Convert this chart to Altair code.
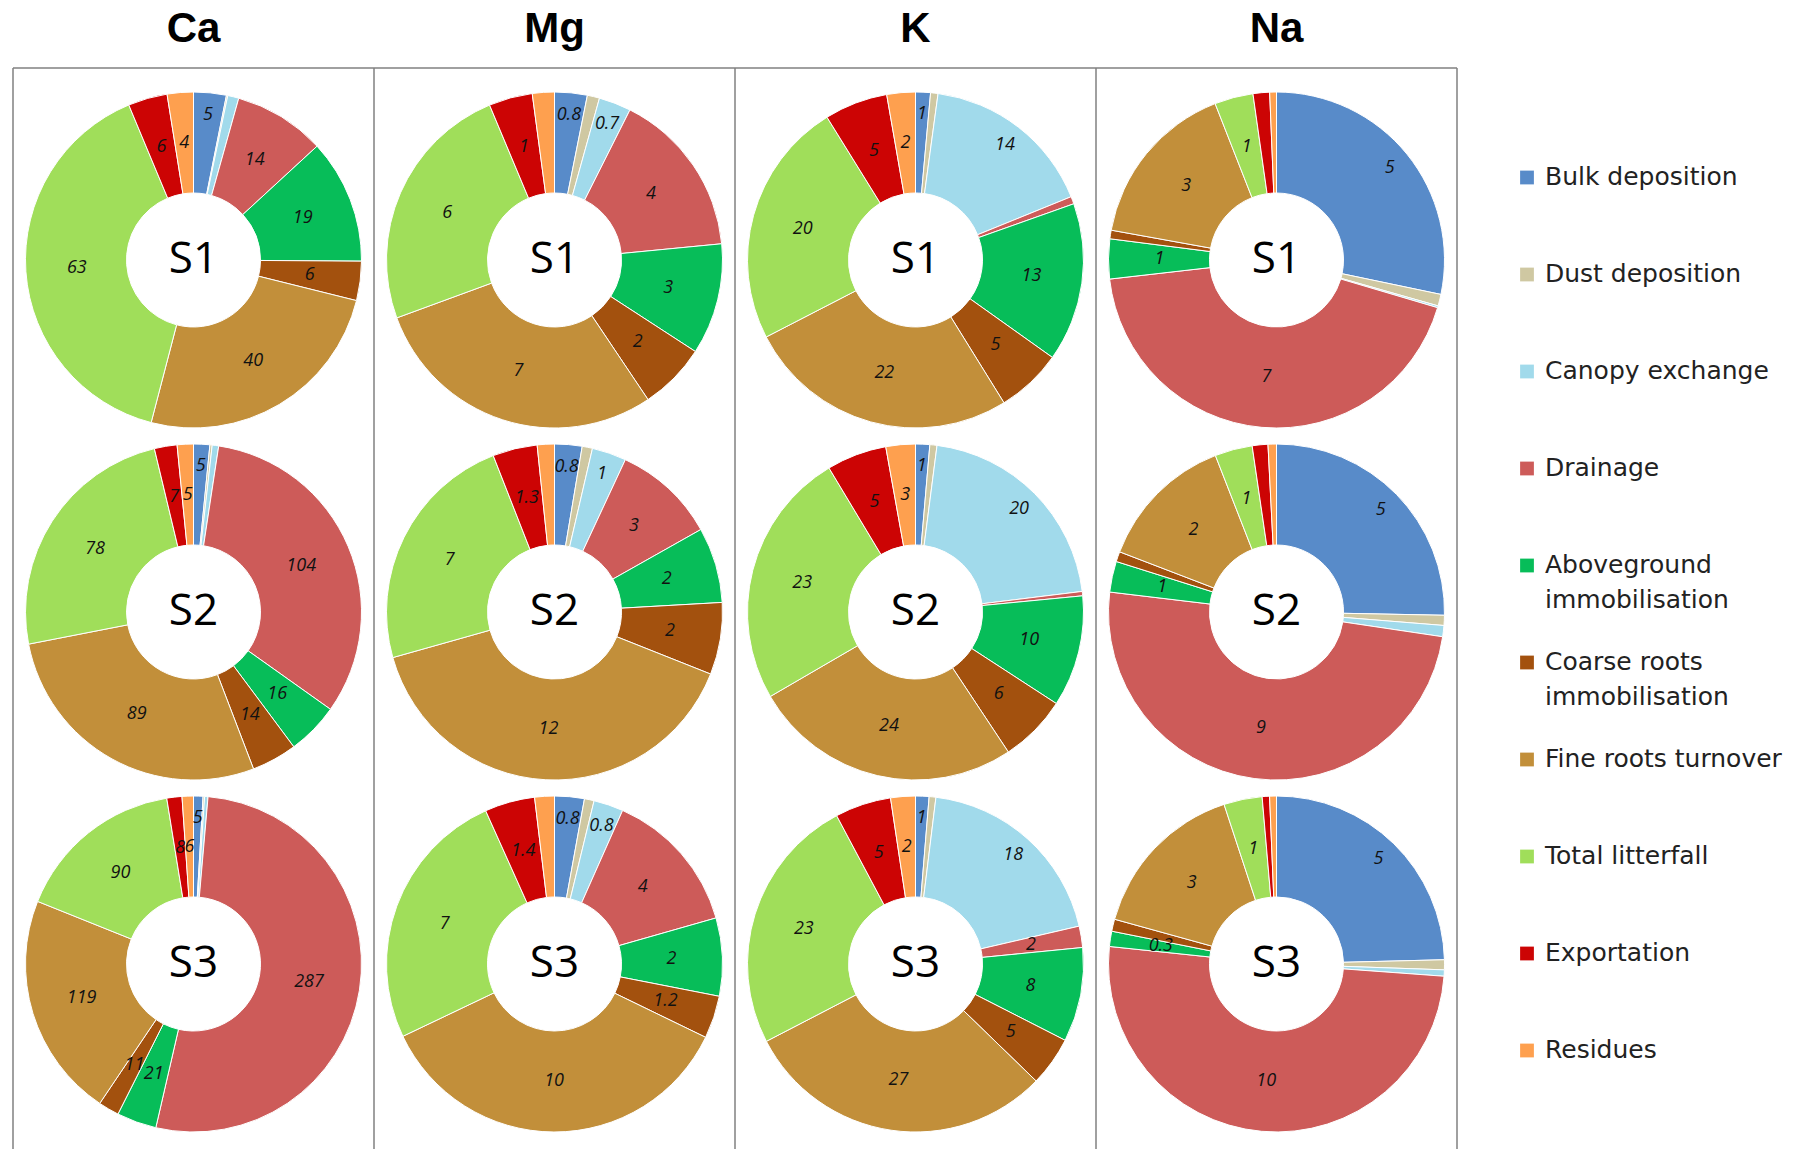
import altair as alt
import pandas as pd

categories = ["Bulk deposition", "Dust deposition", "Canopy exchange", "Drainage",
              "Aboveground immobilisation", "Coarse roots immobilisation",
              "Fine roots turnover", "Total litterfall", "Exportation", "Residues"]
legend_labels = ["Bulk deposition", "Dust deposition", "Canopy exchange", "Drainage",
                 "Aboveground\nimmobilisation", "Coarse roots\nimmobilisation",
                 "Fine roots turnover", "Total litterfall", "Exportation", "Residues"]
colors = ["#588BC9", "#CFC8A2", "#A1DAEB", "#CD5B59", "#07BD59",
          "#A3510E", "#C28F3A", "#A0DE5A", "#CC0404", "#FEA04F"]
elements = ["Ca", "Mg", "K", "Na"]
sites = ["S1", "S2", "S3"]

# slice values (order of categories)
ca_s1 = [5, 0.2, 1.7, 14, 19, 6, 40, 63, 6, 4]
mg_s1 = [0.8, 0.3, 0.79, 4.09, 2.73, 1.64, 7.34, 6.19, 1.07, 0.54]
k_s1 = [1.2, 0.6, 14, 0.6, 12.8, 5.3, 22, 19.9, 5.1, 2.3]
na_s1 = [4.8, 0.19, 0.03, 7.4, 0.65, 0.14, 2.75, 0.63, 0.27, 0.11]
ca_s2 = [5, 0.7, 2, 104, 16, 14, 89, 78, 7, 5]
mg_s2 = [0.8, 0.3, 1.0, 3.0, 2.2, 2.1, 12, 7.1, 1.3, 0.5]
k_s2 = [1.3, 0.65, 20, 0.4, 10.2, 6.2, 24.7, 23.6, 5.5, 2.7]
na_s2 = [4.7, 0.18, 0.2, 9.2, 0.55, 0.18, 2.46, 0.67, 0.28, 0.15]
ca_s3 = [5, 0.8, 1.8, 287, 21, 11, 119, 90, 8, 6]
mg_s3 = [0.8, 0.26, 0.8, 3.9, 2.1, 1.15, 10, 7.1, 1.35, 0.53]
k_s3 = [1.2, 0.6, 18, 1.9, 8.4, 4.4, 27.9, 23, 5, 2.2]
na_s3 = [4.87, 0.19, 0.12, 10.0, 0.29, 0.23, 3.1, 0.73, 0.14, 0.13]

# displayed labels
ca_s1_lbl = ["5", "", "", "14", "19", "6", "40", "63", "6", "4"]
mg_s1_lbl = ["0.8", "", "0.7", "4", "3", "2", "7", "6", "1", ""]
k_s1_lbl = ["1", "", "14", "", "13", "5", "22", "20", "5", "2"]
na_s1_lbl = ["5", "", "", "7", "1", "", "3", "1", "", ""]
ca_s2_lbl = ["5", "", "", "104", "16", "14", "89", "78", "7", "5"]
mg_s2_lbl = ["0.8", "", "1", "3", "2", "2", "12", "7", "1.3", ""]
k_s2_lbl = ["1", "", "20", "", "10", "6", "24", "23", "5", "3"]
na_s2_lbl = ["5", "", "", "9", "1", "", "2", "1", "", ""]
ca_s3_lbl = ["5", "", "", "287", "21", "11", "119", "90", "8", "6"]
mg_s3_lbl = ["0.8", "", "0.8", "4", "2", "1.2", "10", "7", "1.4", ""]
k_s3_lbl = ["1", "", "18", "2", "8", "5", "27", "23", "5", "2"]
na_s3_lbl = ["5", "", "", "10", "0.3", "", "3", "1", "", ""]

series = {
    ("Ca", "S1"): (ca_s1, ca_s1_lbl), ("Mg", "S1"): (mg_s1, mg_s1_lbl),
    ("K", "S1"): (k_s1, k_s1_lbl), ("Na", "S1"): (na_s1, na_s1_lbl),
    ("Ca", "S2"): (ca_s2, ca_s2_lbl), ("Mg", "S2"): (mg_s2, mg_s2_lbl),
    ("K", "S2"): (k_s2, k_s2_lbl), ("Na", "S2"): (na_s2, na_s2_lbl),
    ("Ca", "S3"): (ca_s3, ca_s3_lbl), ("Mg", "S3"): (mg_s3, mg_s3_lbl),
    ("K", "S3"): (k_s3, k_s3_lbl), ("Na", "S3"): (na_s3, na_s3_lbl),
}

rows = []
for (el, st), (vals, lbls) in series.items():
    for i, (c, v, l) in enumerate(zip(categories, vals, lbls)):
        rows.append({"element": el, "site": st, "cat": c, "idx": i, "value": v, "label": l})
df = pd.DataFrame(rows)

W, H = 361, 352
CX, CY = 180.5, 192
GRAY = "#808080"
OUTER_CATS = "(datum.cat == 'Bulk deposition' || datum.cat == 'Canopy exchange')"

color_scale = alt.Scale(domain=categories, range=colors)

arcs = alt.Chart().mark_arc(innerRadius=67, outerRadius=168, stroke="white", strokeWidth=1).encode(
    theta=alt.Theta("value:Q", stack=True),
    color=alt.Color("cat:N", scale=color_scale, legend=None),
    order=alt.Order("idx:Q", sort="ascending"),
    x=alt.value(CX), y=alt.value(CY),
)

def label_layer(expr, radius):
    return alt.Chart().transform_calculate(txt=expr).mark_text(
        font="Open Sans", fontStyle="italic", fontSize=18, color="#111111", radius=radius
    ).encode(
        theta=alt.Theta("value:Q", stack=True),
        text=alt.Text("txt:N"),
        order=alt.Order("idx:Q", sort="ascending"),
        x=alt.value(CX), y=alt.value(CY),
    )

labels_in = label_layer(f"{OUTER_CATS} ? '' : datum.label", 117)
labels_out = label_layer(f"{OUTER_CATS} ? datum.label : ''", 146)

center = alt.Chart().transform_filter("datum.idx == 0").mark_text(
    font="Open Sans", fontSize=44, color="black"
).encode(text=alt.Text("site:N"), x=alt.value(CX), y=alt.value(CY))

col_title = alt.Chart().transform_filter("datum.idx == 0 && datum.site == 'S1'").mark_text(
    font="Liberation Sans", fontSize=42, fontWeight="bold", color="black"
).encode(text=alt.Text("element:N"), x=alt.value(CX), y=alt.value(-39))

left_a = alt.Chart().transform_filter("datum.idx == 0 && datum.site != 'S3'").mark_rule(
    color=GRAY, strokeWidth=1.5).encode(x=alt.value(0), y=alt.value(0), y2=alt.value(H))
left_b = alt.Chart().transform_filter("datum.idx == 0 && datum.site == 'S3'").mark_rule(
    color=GRAY, strokeWidth=1.5).encode(x=alt.value(0), y=alt.value(0), y2=alt.value(H + 60))
right_a = alt.Chart().transform_filter("datum.idx == 0 && datum.site != 'S3' && datum.element == 'Na'").mark_rule(
    color=GRAY, strokeWidth=1.5).encode(x=alt.value(W), y=alt.value(0), y2=alt.value(H))
right_b = alt.Chart().transform_filter("datum.idx == 0 && datum.site == 'S3' && datum.element == 'Na'").mark_rule(
    color=GRAY, strokeWidth=1.5).encode(x=alt.value(W), y=alt.value(0), y2=alt.value(H + 60))
top_line = alt.Chart().transform_filter("datum.idx == 0 && datum.site == 'S1'").mark_rule(
    color=GRAY, strokeWidth=1.5).encode(x=alt.value(0), x2=alt.value(W), y=alt.value(0))

cell = alt.layer(arcs, labels_in, labels_out, center, col_title, left_a, left_b, right_a, right_b,
                 top_line).properties(width=W, height=H)

grid = cell.facet(
    data=df,
    column=alt.Column("element:N", sort=elements, header=None),
    row=alt.Row("site:N", sort=sites, header=None),
    spacing=0,
    bounds="flush",
).resolve_scale(theta="independent")

leg_df = pd.DataFrame({"cat": categories, "lbl": legend_labels})
Y0 = 109.5
ysc = alt.Scale(type="point", domain=categories, range=[Y0, Y0 + 873], padding=0)
leg_sym = alt.Chart(leg_df).mark_square(size=190, opacity=1).encode(
    y=alt.Y("cat:N", scale=ysc, axis=None),
    x=alt.value(29),
    color=alt.Color("cat:N", scale=color_scale, legend=None),
)
leg_txt = alt.Chart(leg_df).mark_text(
    font="DejaVu Sans", fontSize=25, align="left", baseline="line-top", lineHeight=35, dy=-18,
    lineBreak="\n", color="#222222"
).encode(
    y=alt.Y("cat:N", scale=ysc, axis=None),
    x=alt.value(47),
    text=alt.Text("lbl:N"),
)
legend_chart = alt.layer(leg_sym, leg_txt).properties(width=270, height=1080)

chart = alt.hconcat(grid, legend_chart, spacing=40).properties(
    padding={"left": 4, "top": 0, "right": 5, "bottom": 0}
).configure_view(stroke=None)

chart.save("out.html", embed_options={"renderer": "svg", "actions": False})
